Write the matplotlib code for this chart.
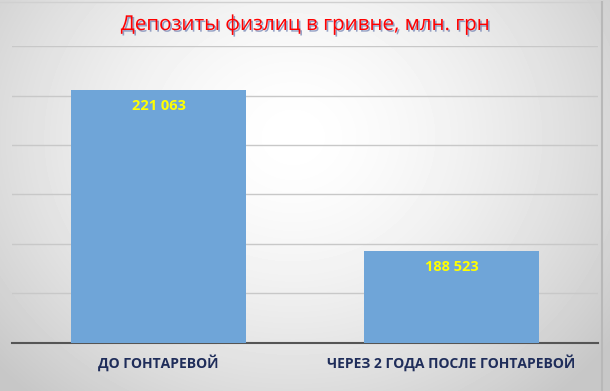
import numpy as np
import matplotlib
matplotlib.use("Agg")
import matplotlib.pyplot as plt
import matplotlib.patheffects as pe

categories = ['ДО ГОНТАРЕВОЙ', 'ЧЕРЕЗ 2 ГОДА ПОСЛЕ ГОНТАРЕВОЙ']
values = [221063, 188523]
labels = ['221 063', '188 523']

plt.rcParams['font.family'] = ['Open Sans', 'DejaVu Sans']

W, H = 610, 391
fig = plt.figure(figsize=(W / 100, H / 100), dpi=100)

# радиальный градиент фона
bg = fig.add_axes([0, 0, 1, 1])
yy, xx = np.mgrid[0:H, 0:W]
r = np.sqrt(((xx - W * 0.48) / (W * 0.55)) ** 2 + ((yy - H * 0.35) / (H * 0.75)) ** 2)
shade = np.clip(1.0 - 0.17 * r ** 1.6, 0.78, 1.0)
bg.imshow(shade, cmap='gray', vmin=0, vmax=1, aspect='auto', extent=[0, W, H, 0])
bg.plot([0, W - 8], [2, 2], color='#d0d0d0', lw=1)
bg.plot([W - 8, W - 8], [2, H], color='#b8b8b8', lw=1.5)
bg.set_xlim(0, W)
bg.set_ylim(H, 0)
bg.axis('off')

ax = fig.add_axes([12 / W, 1 - 343 / H, 586 / W, 297 / H])
ax.set_facecolor('none')
x = np.arange(len(categories))
ax.bar(x, values, width=0.6, color='#6fa5d8', zorder=3)
ax.set_ylim(170000, 230000)
ax.set_xlim(-0.5, 1.5)
ax.set_yticks(np.arange(170000, 230001, 10000))
ax.yaxis.grid(True, color='#c8c8c8', lw=1)
ax.set_yticklabels([])
ax.tick_params(length=0)
ax.set_xticks(x)
ax.set_xticklabels(categories, fontsize=10, fontweight='bold', color='#1f2d5a')
ax.tick_params(axis='x', pad=8)
for s in ['top', 'right', 'left']:
    ax.spines[s].set_visible(False)
ax.spines['bottom'].set_color('#555555')
ax.spines['bottom'].set_linewidth(1.5)

for i, v in enumerate(values):
    ax.annotate(labels[i], (x[i], v), xytext=(0, -11), textcoords='offset points',
                ha='center', va='center', color='#ffff00', fontsize=10.5,
                fontweight='bold', zorder=4)

fig.text(0.5, 1 - 24 / H, 'Депозиты физлиц в гривне, млн. грн', ha='center', va='center',
         fontsize=14.8, color='#ff0000',
         path_effects=[pe.withSimplePatchShadow(offset=(1.2, -1.2), shadow_rgbFace='#7a8ab8', alpha=0.8)])

fig.savefig('out.png', dpi=100)
